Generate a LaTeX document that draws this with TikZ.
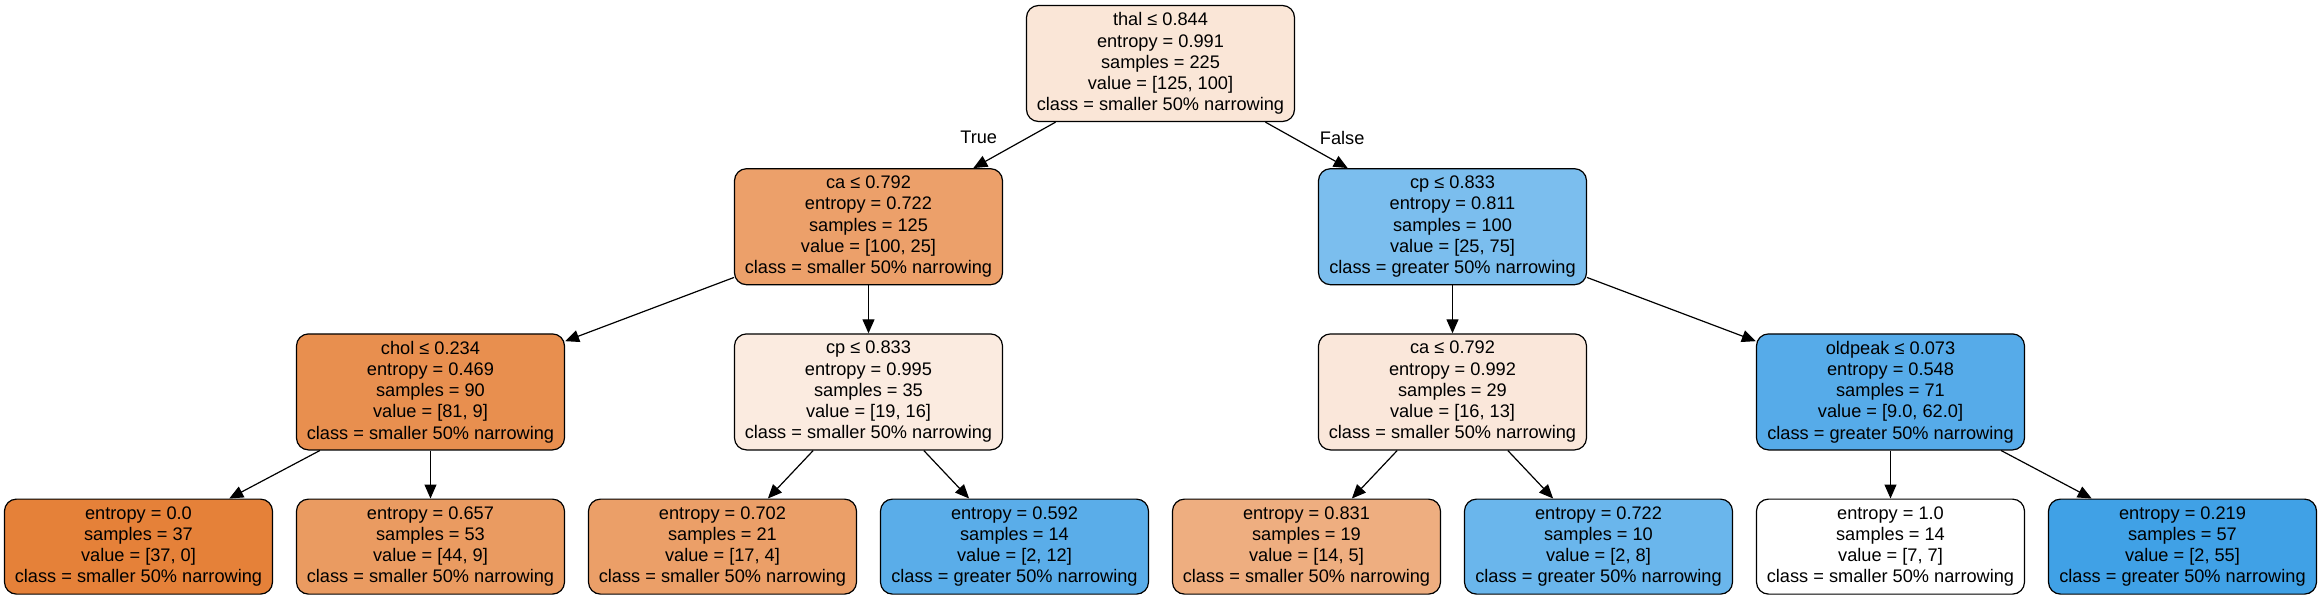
\documentclass[tikz,border=0pt]{standalone}
\usepackage{fontspec}
\setmainfont{Liberation Sans}
\usetikzlibrary{positioning,arrows.meta}

\definecolor{thalc}{RGB}{250,230,215}
\definecolor{cac}{RGB}{236,160,106}
\definecolor{cpc}{RGB}{123,190,238}
\definecolor{cholc}{RGB}{232,143,79}
\definecolor{cpbc}{RGB}{251,235,224}
\definecolor{cabc}{RGB}{250,231,218}
\definecolor{oldpeakc}{RGB}{86,171,233}
\definecolor{lic}{RGB}{229,129,57}
\definecolor{liic}{RGB}{234,155,97}
\definecolor{liiic}{RGB}{235,159,104}
\definecolor{livc}{RGB}{90,173,233}
\definecolor{lvc}{RGB}{238,174,128}
\definecolor{lvic}{RGB}{106,182,236}
\definecolor{lviic}{RGB}{255,255,255}
\definecolor{lviiic}{RGB}{64,161,230}

\begin{document}
\begin{tikzpicture}[node distance={24pt}, line width=0.6pt,
  split/.style = {draw, rounded corners=6pt, minimum width=134pt, minimum height=58pt,
    align=center, inner sep=2pt, font={\fontsize{9.1pt}{10.6pt}\selectfont}},
  leaf/.style = {split, minimum height=47.5pt},
  edge/.style = {-{Triangle[length=7pt,width=6pt]}},
  tag/.style = {inner sep=1pt, font={\fontsize{9.1pt}{10.6pt}\selectfont}}]
\useasboundingbox (-580.25pt,31.75pt) rectangle (580.75pt,-266.25pt);
% root and first split
\node[split, fill=thalc] (thal) at (0,0) {thal ≤ 0.844\\entropy = 0.991\\samples = 225\\value = [125, 100]\\class = smaller 50\% narrowing};
\node[split, fill=cac] (ca) [below=23pt of thal, xshift=-146pt] {ca ≤ 0.792\\entropy = 0.722\\samples = 125\\value = [100, 25]\\class = smaller 50\% narrowing};
\node[split, fill=cpc] (cp) [below=23pt of thal, xshift=146pt] {cp ≤ 0.833\\entropy = 0.811\\samples = 100\\value = [25, 75]\\class = greater 50\% narrowing};
% second level
\node[split, fill=cholc] (chol) [below=of ca, xshift=-219pt] {chol ≤ 0.234\\entropy = 0.469\\samples = 90\\value = [81, 9]\\class = smaller 50\% narrowing};
\node[split, fill=cpbc] (cpb) [below=of ca] {cp ≤ 0.833\\entropy = 0.995\\samples = 35\\value = [19, 16]\\class = smaller 50\% narrowing};
\node[split, fill=cabc] (cab) [below=of cp] {ca ≤ 0.792\\entropy = 0.992\\samples = 29\\value = [16, 13]\\class = smaller 50\% narrowing};
\node[split, fill=oldpeakc] (oldpeak) [below=of cp, xshift=219pt] {oldpeak ≤ 0.073\\entropy = 0.548\\samples = 71\\value = [9.0, 62.0]\\class = greater 50\% narrowing};
% leaves
\node[leaf, fill=lic] (l1) [below=of chol, xshift=-146pt] {entropy = 0.0\\samples = 37\\value = [37, 0]\\class = smaller 50\% narrowing};
\node[leaf, fill=liic] (l2) [below=of chol] {entropy = 0.657\\samples = 53\\value = [44, 9]\\class = smaller 50\% narrowing};
\node[leaf, fill=liiic] (l3) [below=of cpb, xshift=-73pt] {entropy = 0.702\\samples = 21\\value = [17, 4]\\class = smaller 50\% narrowing};
\node[leaf, fill=livc] (l4) [below=of cpb, xshift=73pt] {entropy = 0.592\\samples = 14\\value = [2, 12]\\class = greater 50\% narrowing};
\node[leaf, fill=lvc] (l5) [below=of cab, xshift=-73pt] {entropy = 0.831\\samples = 19\\value = [14, 5]\\class = smaller 50\% narrowing};
\node[leaf, fill=lvic] (l6) [below=of cab, xshift=73pt] {entropy = 0.722\\samples = 10\\value = [2, 8]\\class = greater 50\% narrowing};
\node[leaf, fill=lviic] (l7) [below=of oldpeak] {entropy = 1.0\\samples = 14\\value = [7, 7]\\class = smaller 50\% narrowing};
\node[leaf, fill=lviiic] (l8) [below=of oldpeak, xshift=146pt] {entropy = 0.219\\samples = 57\\value = [2, 55]\\class = greater 50\% narrowing};
% edges
\draw[edge] (thal) -- node[tag, pos=0.34, left=14pt] {True} (ca);
\draw[edge] (thal) -- node[tag, pos=0.34, right=12pt] {False} (cp);
\draw[edge] (ca) -- (chol);
\draw[edge] (ca) -- (cpb);
\draw[edge] (cp) -- (cab);
\draw[edge] (cp) -- (oldpeak);
\draw[edge] (chol) -- (l1);
\draw[edge] (chol) -- (l2);
\draw[edge] (cpb) -- (l3);
\draw[edge] (cpb) -- (l4);
\draw[edge] (cab) -- (l5);
\draw[edge] (cab) -- (l6);
\draw[edge] (oldpeak) -- (l7);
\draw[edge] (oldpeak) -- (l8);
\end{tikzpicture}
\end{document}
